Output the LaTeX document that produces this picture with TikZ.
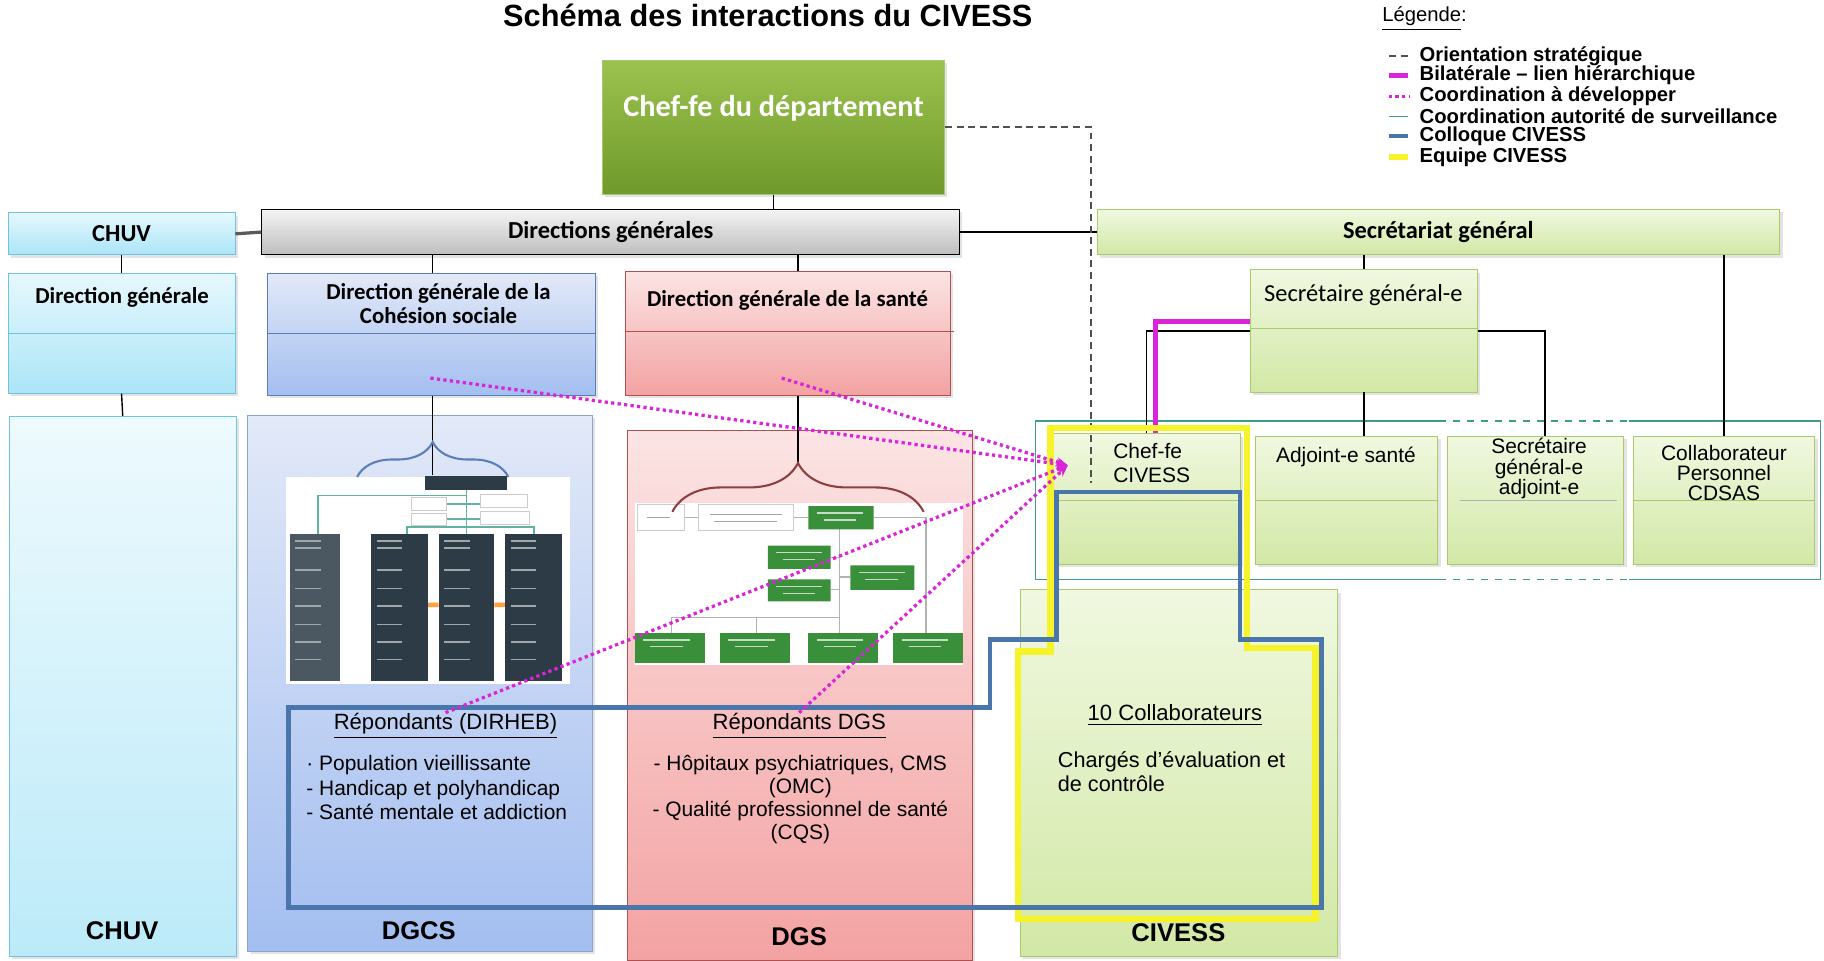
\documentclass[tikz,border=0pt]{standalone}
\usepackage{fontspec}
\setmainfont{Liberation Sans}
\newfontfamily\calfont{Carlito}
\usetikzlibrary{positioning,fit,shadows,decorations.pathreplacing,arrows.meta}

\begin{document}
\begin{tikzpicture}[x=0.5pt,y=-0.5pt,
  box/.style={inner sep=0pt, drop shadow={opacity=0.22,shadow xshift=1.2pt,shadow yshift=-1.2pt}},
  chefbox/.style={box, draw=chef edge, top color=chef top, bottom color=chef bottom},
  greybox/.style={box, draw=black, top color=grey top, bottom color=grey bottom},
  chuvbox/.style={box, draw=chuv edge, top color=chuv top, bottom color=chuv bottom},
  dgcsbox/.style={box, draw=dgcs edge, top color=dgcs top, bottom color=dgcs bottom},
  dgsbox/.style={box, draw=dgs edge, top color=dgs top, bottom color=dgs bottom},
  sgbox/.style={box, draw=sg edge, top color=sg top, bottom color=sg bottom},
  head/.style={font=\calfont\bfseries\fontsize{10.5}{12}\selectfont},
  posttext/.style={font=\fontsize{9}{10}\selectfont, align=center},
  itemtext/.style={font=\fontsize{9}{10.5}\selectfont, inner sep=0pt},
  foot/.style={font=\bfseries\fontsize{11}{13}\selectfont},
  legtext/.style={font=\bfseries\fontsize{8.7}{10}\selectfont, anchor=west, inner sep=0pt},
  link/.style={draw=black, line width=0.6pt},
  orient/.style={draw=orient grey, line width=0.9pt, dash pattern=on 3pt off 2pt},
  bilat/.style={draw=bilat pink, line width=2.2pt},
  coorddev/.style={draw=bilat pink, line width=1.4pt, dash pattern=on 1.4pt off 1.4pt},
  surv/.style={draw=surv teal, line width=0.6pt},
  colloque/.style={draw=colloque blue, line width=2pt},
  equipe/.style={draw=equipe yellow, line width=2.8pt},
  orgline/.style={draw=gray!60, line width=0.5pt}]

\definecolor{chef top}{HTML}{9CC24E}
\definecolor{chef bottom}{HTML}{6E9A2B}
\definecolor{chef edge}{HTML}{A8C870}
\definecolor{grey top}{HTML}{F4F4F4}
\definecolor{grey bottom}{HTML}{BEBEBE}
\definecolor{chuv top}{HTML}{E6F8FD}
\definecolor{chuv bottom}{HTML}{ABE5F7}
\definecolor{chuv edge}{HTML}{6FC3DF}
\definecolor{dgcs top}{HTML}{E2E9F8}
\definecolor{dgcs bottom}{HTML}{A3BEF0}
\definecolor{dgcs edge}{HTML}{5B7EB8}
\definecolor{dgs top}{HTML}{FCE4E4}
\definecolor{dgs bottom}{HTML}{F3A2A2}
\definecolor{dgs edge}{HTML}{B05050}
\definecolor{sg top}{HTML}{F0F8E0}
\definecolor{sg bottom}{HTML}{D2E8A6}
\definecolor{sg edge}{HTML}{A9CB6B}
\definecolor{orient grey}{HTML}{505050}
\definecolor{bilat pink}{HTML}{D924D9}
\definecolor{surv teal}{HTML}{3E9C8A}
\definecolor{colloque blue}{HTML}{4A76AC}
\definecolor{equipe yellow}{HTML}{F7F32A}
\definecolor{slate}{HTML}{2C3B45}
\definecolor{org teal}{HTML}{5FB3A3}
\definecolor{org green}{HTML}{3A8F3A}

\useasboundingbox (0,0) rectangle (1568,826);

% titre et legende
\node[font=\bfseries\fontsize{13.2}{15}\selectfont] (title) at (660,13) {Schéma des interactions du CIVESS};
\node[legtext, font=\fontsize{8.7}{10}\selectfont] (legtitle) at (1188,16) {\underline{Légende}:};
\foreach \yy/\txt [count=\i] in {48/Orientation stratégique, 65/Bilatérale – lien hiérarchique,
    83/Coordination à développer, 100/Coordination autorité de surveillance,
    117/Colloque CIVESS, 135/Equipe CIVESS}
  \node[legtext] (leg\i) at (1220,\yy) {\txt};
\draw[orient] (1194,48) -- (1211,48);
\draw[bilat] (1194,65) -- (1210,65);
\draw[coorddev] (1194,83) -- (1212,83);
\draw[surv] (1194,100) -- (1210,100);
\draw[colloque] (1194,117) -- (1210,117);
\draw[equipe] (1194,135) -- (1210,135);

% colonnes du bas
\node[chuvbox, fit={(8,358) (203,822)}, top color=chuv top!70, bottom color=chuv bottom!80] (chuvcol) {};
\node[dgcsbox, fit={(213,357) (509,818)}, draw=dgcs edge!70] (dgcscol) {};
\node[dgsbox, fit={(539,370) (836,826)}] (dgscol) {};
\node[sgbox, fit={(877,507) (1150,822)}] (civcol) {};

% niveau departement
\node[chefbox, fit={(518,52) (812,167)}] (chef) {};
\node[font=\calfont\bfseries\fontsize{13}{15}\selectfont, text=white] (cheftxt) at (665,93) {Chef-fe du département};
\node[greybox, fit={(225,180) (825,219)}] (dirgen) {};
\node[head] (dirgentxt) at (dirgen) {Directions générales};
\node[chuvbox, fit={(7,183) (202,219)}] (chuvtop) {};
\node[head] (chuvtoptxt) at (chuvtop) {CHUV};
\node[sgbox, fit={(943,180) (1530,219)}] (secgen) {};
\node[head] (secgentxt) at (secgen) {Secrétariat général};

% directions generales
\node[chuvbox, fit={(7,235) (202,338)}] (chuvdg) {};
\draw[chuv edge] (7,287) -- (202,287);
\node[head, font=\calfont\bfseries\fontsize{9.8}{11}\selectfont] (chuvdgtxt) at (105,256) {Direction générale};
\node[dgcsbox, fit={(230,235) (512,340)}] (dgcshead) {};
\draw[dgcs edge] (230,287) -- (512,287);
\node[head, font=\calfont\bfseries\fontsize{9.8}{10.5}\selectfont, align=center] (dgcsheadtxt) at (377,261) {Direction générale de la\\Cohésion sociale};
\node[dgsbox, fit={(538,233) (817,340)}] (dgshead) {};
\draw[dgs edge] (538,285) -- (820,285);
\node[head, font=\calfont\bfseries\fontsize{9.8}{11}\selectfont] (dgsheadtxt) at (677,258) {Direction générale de la santé};

% liens hierarchiques
\draw[link] (chef.south) -- (chef.south |- dirgen.north);
\draw[draw=gray!70!black, line width=1.4pt] (chuvtop.east) -- (dirgen.west);
\draw[link] (dirgen.east) -- (secgen.west);
\draw[link] (chuvtop.south) -- (chuvdg.north);
\draw[link] (chuvdg.south) -- (chuvcol.north);
\coordinate (dgcsbrace) at (372,380);
\coordinate (dgcsdrop) at (372,408);
\coordinate (dgsbrace) at (686,398);
\draw[link] (dgcsbrace |- dirgen.south) -- (dgcsbrace |- dgcshead.north);
\draw[link] (dgsbrace |- dirgen.south) -- (dgsbrace |- dgshead.north);
\draw[link] (dgcsbrace |- dgcshead.south) -- (dgcsdrop);
\draw[link] (dgsbrace |- dgshead.south) -- (dgsbrace);

% organigramme DGCS
\fill[white] (246,410) rectangle (490,588);
\draw[org teal, line width=0.8pt] (401,421) -- (401,459);
\draw[org teal, line width=0.8pt] (401,426) -- (273,426) -- (273,459);
\draw[org teal, line width=0.8pt] (350,459) -- (350,453) -- (459,453) -- (459,459);
\draw[org teal, line width=0.8pt] (384,433) -- (413,433) (384,446) -- (413,446);
\foreach \bx/\by/\bw in {354/428/30, 354/441/30, 413/425/40, 413/440/42}
  \draw[gray!40, fill=white] (\bx,\by) rectangle ++(\bw,11);
\fill[slate] (365,409) rectangle (436,421);
\fill[slate!85] (249,459) rectangle ++(43,126);
\foreach \cx/\cw in {319/49, 377/48, 434/49}
  \fill[slate] (\cx,459) rectangle ++(\cw,126);
\fill[orange!75] (368,518) rectangle (377,522) (425,518) rectangle (434,522);
\foreach \cx in {249,319,377,434}
  \foreach \ty in {465,471,490,506,521,537,552,567}
    \draw[white!55!slate, line width=0.6pt] (\cx+5,\ty) -- +(22,0);
\draw[dgcs edge, line width=0.9pt, decorate, decoration={brace, amplitude=15pt}] (307,410) -- (437,410);

% organigramme DGS
\fill[white] (546,432) rectangle (828,572);
\draw[orgline] (588,445) -- (600,445) (682,445) -- (695,445) (751,445) -- (796,445) -- (796,544);
\draw[orgline] (722,455) -- (722,531) -- (577,531) -- (577,544) (650,531) -- (650,544) (722,531) -- (722,544);
\draw[orgline] (714,479) -- (722,479) (714,507) -- (722,507) (722,496) -- (731,496);
\draw[gray!40, fill=white] (548,434) rectangle (588,456) (600,434) rectangle (682,456);
\fill[org green] (695,435) rectangle (751,455) (660,469) rectangle (714,489)
  (660,498) rectangle (714,517) (731,486) rectangle (786,507);
\foreach \bx in {546,619,695,768}
  \fill[org green] (\bx,544) rectangle ++(60,26);
\foreach \bx/\by in {702/441,667/475,667/504,738/492,553/550,626/550,702/550,775/550}
  \draw[white!70!org green, line width=0.6pt] (\bx,\by) -- +(40,0) (\bx+6,\by+6) -- +(28,0);
\draw[gray!70, line width=0.5pt] (556,445) -- +(20,0) (610,442) -- +(62,0) (614,448) -- +(54,0);
\draw[dgs edge!80!black, line width=0.9pt, decorate, decoration={brace, amplitude=21pt}] (578,440) -- (794,440);

% secretariat general
\node[sgbox, fit={(1075,232) (1270,337)}] (sg) {};
\draw[sg edge] (1075,282) -- (1270,282);
\node[font=\calfont\fontsize{10.5}{12}\selectfont] (sgtxt) at (1172,254) {Secrétaire général-e};
\draw[surv] (890,362) -- (1237,362) (1400,362) -- (1565,362) -- (1565,498) -- (1400,498)
  (1237,498) -- (890,498) -- (890,362);
\draw[surv, dashed] (1237,362) -- (1400,362) (1237,498) -- (1400,498);
\node[sgbox, fit={(905,373) (1066,485)}] (chefciv) {};
\draw[sg edge] (905,430) -- (1066,430);
\node[posttext, align=left, anchor=west] (chefcivtxt) at (950,398) {Chef-fe\\CIVESS};
\node[sgbox, fit={(1079,375) (1236,485)}] (adj) {};
\draw[sg edge] (1079,430) -- (1236,430);
\node[posttext] (adjtxt) at (1157,393) {Adjoint-e santé};
\node[sgbox, fit={(1244,375) (1396,485)}] (sgadj) {};
\draw[gray!60] (1255,430) -- (1390,430);
\node[posttext, font=\fontsize{9}{8.8}\selectfont] (sgadjtxt) at (1323,403) {Secrétaire\\général-e\\adjoint-e};
\node[sgbox, fit={(1404,375) (1560,485)}] (collab) {};
\draw[sg edge] (1404,430) -- (1560,430);
\node[posttext, font=\fontsize{9}{8.6}\selectfont] (collabtxt) at (1482,407) {Collaborateur\\Personnel\\CDSAS};

\draw[link] (sg.north) -- (sg.north |- secgen.south);
\draw[link] (collab.north) -- (collab.north |- secgen.south);
\draw[link] (sg.south) -- (sg.south |- adj.north);
\draw[link] (sg.west) -| (chefciv.north);
\draw[link] (sg.east) -| ([xshift=4pt]sgadj.north);
\draw[bilat] ([yshift=4pt]sg.west) -| ([xshift=4pt]chefciv.north);
\coordinate (orienttip) at (938,415);
\draw[orient] (chef.east) -| (orienttip);

% contenus des colonnes
\node[itemtext, font=\fontsize{9.5}{11}\selectfont] (repdcs) at (383,624) {\underline{Répondants (DIRHEB)}};
\node[itemtext, anchor=north west, align=left] (dcsitems) at (263,649) {· Population vieillissante\\- Handicap et polyhandicap\\- Santé mentale et addiction};
\node[itemtext, font=\fontsize{9.5}{11}\selectfont] (repdgs) at (687,624) {\underline{Répondants DGS}};
\node[itemtext, anchor=north, align=center, font=\fontsize{9}{9.8}\selectfont] (dgsitems) at (688,649) {- Hôpitaux psychiatriques, CMS\\(OMC)\\- Qualité professionnel de santé\\(CQS)};
\node[itemtext, font=\fontsize{9.5}{11}\selectfont] (civhead) at (1010,615) {\underline{10 Collaborateurs}};
\node[itemtext, anchor=north west, align=left, font=\fontsize{9.3}{10}\selectfont] (civitems) at (909,646) {Chargés d’évaluation et\\de contrôle};
\node[foot] (chuvlabel) at (105,800) {CHUV};
\node[foot] (dgcslabel) at (360,800) {DGCS};
\node[foot] (dgslabel) at (687,805) {DGS};
\node[foot] (civlabel) at (1013,802) {CIVESS};

% equipe et colloque CIVESS
\draw[equipe] (903,368) -- (1072,368) -- (1072,557) -- (1131,557) -- (1131,790)
  -- (875,790) -- (875,560) -- (903,560) -- cycle;
\draw[colloque] (248,608) -- (851,608) -- (851,550) -- (908,550) -- (908,423) -- (1066,423)
  -- (1066,550) -- (1136,550) -- (1136,780) -- (248,780) -- cycle;

% coordinations a developper
\coordinate (civtarget) at (918,400);
\coordinate (dcssrc) at (370,325);
\coordinate (dgssrc) at (672,325);
\foreach \src in {dcssrc, dgssrc, repdcs.north, repdgs.north}
  \draw[coorddev, -{Stealth[length=5pt,width=4pt]}] (\src) -- (civtarget);
\end{tikzpicture}
\end{document}
